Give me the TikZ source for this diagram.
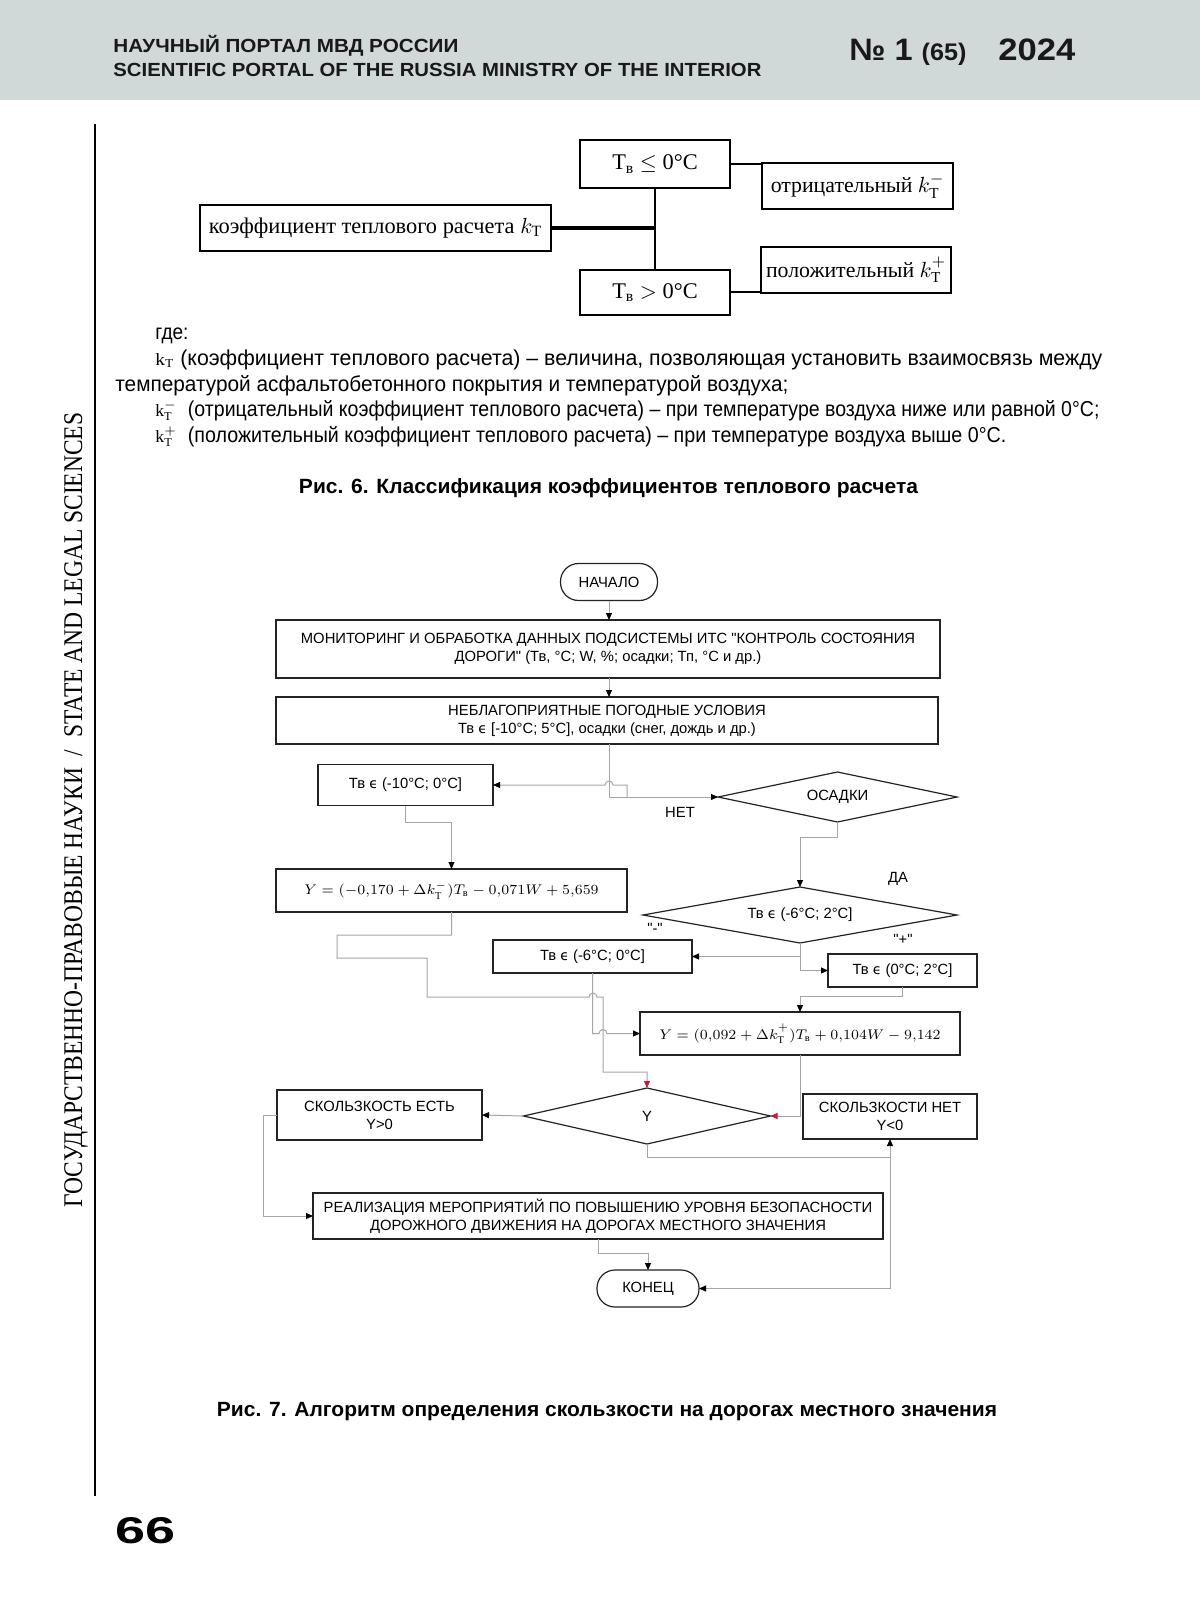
\documentclass[tikz,border=0pt]{standalone}
\usepackage{amsmath}
\usepackage{fontspec}
\setmainfont{Liberation Serif}
\newfontfamily\arial{Liberation Sans}
\newfontfamily\arialn[FakeStretch=0.88]{Liberation Sans}
\newfontfamily\serif{Liberation Serif}
\newfontfamily\dejavu{DejaVu Sans}
\usepackage{graphicx}
\usetikzlibrary{arrows.meta,shapes.geometric}
\definecolor{band}{RGB}{209,217,216}
\definecolor{lineg}{RGB}{165,165,165}
\definecolor{boxc}{RGB}{35,35,35}
\definecolor{redarr}{RGB}{205,20,60}
\newcommand{\fitw}[2]{\resizebox{#1}{\height}{#2}}
\newcommand{\eps}{{\dejavu\fontsize{7}{9}\selectfont ϵ}}
\newcommand{\upp}{\raisebox{1.2pt}{$\scriptstyle +$}}
\newcommand{\ksym}[1]{{\fontsize{8.6}{10}\selectfont$\mathrm{k}_{\mathrm{T}}#1$}}
\begin{document}
\begin{tikzpicture}[x=0.5pt,y=-0.5pt,
  hdr/.style={inner sep=0pt, anchor=base west, text=black!90, font=\arial\bfseries\fontsize{9.5}{11}\selectfont},
  body/.style={inner sep=0pt, anchor=base west, font=\arialn\fontsize{10.8}{12}\selectfont},
  capt/.style={inner sep=0pt, anchor=base, font=\arialn\bfseries\fontsize{10.3}{12}\selectfont},
  fsix/.style={draw=black, line width=1pt, inner sep=0pt, outer sep=0pt, font=\serif\fontsize{11.2}{13}\selectfont},
  fcbox/.style={draw=boxc, line width=0.6pt, inner sep=0pt, outer sep=0pt, align=center, font=\arial\fontsize{7.4}{9}\selectfont},
  fcdia/.style={diamond, draw=boxc, line width=0.6pt, inner sep=0pt, outer sep=0pt},
  lbl/.style={inner sep=0pt, font=\arial\fontsize{7.4}{9}\selectfont},
  conn/.style={draw=lineg, line width=0.5pt},
  arr/.style={conn, -{Triangle[length=3.5pt,width=3pt,color=black]}},
  rarr/.style={conn, -{Triangle[length=3.5pt,width=3pt,color=redarr]}},
  fline/.style={draw=black, line width=1pt}]
\useasboundingbox (0,0) rectangle (1200,1599);
\fill[white] (0,0) rectangle (1200,1599);
% header
\fill[band] (0,0) rectangle (1200,100);
\node[hdr] (h1) at (113,53) {\fitw{172.5pt}{НАУЧНЫЙ ПОРТАЛ МВД РОССИИ}};
\node[hdr] (h2) at (113,77) {\fitw{324pt}{SCIENTIFIC PORTAL OF THE RUSSIA MINISTRY OF THE INTERIOR}};
\node[hdr, font=\arial\bfseries\fontsize{15.5}{16}\selectfont] (h3) at (849,61) {\fitw{58.5pt}{№ 1 {\fontsize{12}{12}\selectfont(65)}}};
\node[hdr, font=\arial\bfseries\fontsize{15.5}{16}\selectfont] (h4) at (998,61) {\fitw{38.5pt}{2024}};
% side
\draw[line width=1.2pt] (95,124) -- (95,1496);
\node[rotate=90, inner sep=0pt, font=\serif\fontsize{13.5}{14}\selectfont] (vt) at (76,810) {\fitw{397.5pt}{ГОСУДАРСТВЕННО-ПРАВОВЫЕ НАУКИ \ / \ STATE AND LEGAL SCIENCES}};
\node[anchor=base west, inner sep=0pt, font=\arial\bfseries] (pg) at (115,1543) {\resizebox{30pt}{13pt}{66}};
% figure 6
\node[fsix, minimum width=75pt, minimum height=24pt] (tle) at (655,164) {Т\textsubscript{в} $\leq$ 0°C};
\node[fsix, font=\serif\fontsize{10.9}{13}\selectfont, minimum width=95.5pt, minimum height=23pt] (neg) at (857.5,186) {отрицательный $k_{\mathrm{T}}^{-}$};
\node[fsix, minimum width=175.5pt, minimum height=23pt] (kt) at (375.5,228) {коэффициент теплового расчета $k_{\mathrm{T}}$};
\node[fsix, minimum width=75pt, minimum height=22.5pt] (tgt) at (655,292.5) {Т\textsubscript{в} $>$ 0°C};
\node[fsix, font=\serif\fontsize{10.9}{13}\selectfont, minimum width=95pt, minimum height=23pt] (pos) at (856,270) {положительный $k_{\mathrm{T}}^{\upp}$};
\coordinate (junc) at (655,228);
\draw[line width=1.6pt] (kt.east) -- (junc);
\draw[fline] (tle.south) -- (tgt.north);
\draw[fline] (tle.east) -- (tle.east -| neg.west);
\draw[fline] (tgt.east) -- (tgt.east -| pos.west);
% body text
\node[body] (l0) at (155,340) {где:};
\node[body] (l1) at (155,365) {\fitw{473.5pt}{\ksym{} (коэффициент теплового расчета) – величина, позволяющая установить взаимосвязь между}};
\node[body] (l2) at (115,391) {\fitw{336.5pt}{температурой асфальтобетонного покрытия и температурой воздуха;}};
\node[body] (l3) at (155,416) {\fitw{472pt}{\ksym{^{-}}\ \ (отрицательный коэффициент теплового расчета) – при температуре воздуха ниже или равной 0°C;}};
\node[body] (l4) at (155,442) {\fitw{425.5pt}{\ksym{^{+}}\ \ (положительный коэффициент теплового расчета) – при температуре воздуха выше 0°C.}};
\node[capt] (c6) at (608.5,493) {\fitw{309.5pt}{Рис. 6. Классификация коэффициентов теплового расчета}};
% figure 7 nodes
\node[fcbox, rounded corners=9pt, minimum width=48.5pt, minimum height=18.5pt] (start) at (609,582) {НАЧАЛО};
\node[fcbox, minimum width=332pt, minimum height=29pt] (b1) at (608,649) {МОНИТОРИНГ И ОБРАБОТКА ДАННЫХ ПОДСИСТЕМЫ ИТС "КОНТРОЛЬ СОСТОЯНИЯ\\ДОРОГИ" (Тв, °C; W, \%; осадки; Тп, °C и др.)};
\node[fcbox, minimum width=331pt, minimum height=23.5pt] (b2) at (607,720.5) {НЕБЛАГОПРИЯТНЫЕ ПОГОДНЫЕ УСЛОВИЯ\\Тв \eps{} [-10°C; 5°C], осадки (снег, дождь и др.)};
\node[fcbox, minimum width=87.5pt, minimum height=20.5pt] (c10) at (405.5,785) {Тв \eps{} (-10°C; 0°C]};
\node[fcdia, minimum width=119.5pt, minimum height=25pt, label={[lbl]center:ОСАДКИ}] (osad) at (837.5,797) {};
\node[fcbox, minimum width=175.5pt, minimum height=21.5pt] (ym) at (451.5,890.5) {$Y=(-0{,}170+\Delta k_{\mathrm{T}}^{-})T_{\text{\serif в}}-0{,}071W+5{,}659$};
\node[fcdia, minimum width=157pt, minimum height=28pt, label={[lbl]center:{Тв \eps{} (-6°C; 2°C]}}] (d2) at (800,915) {};
\node[fcbox, minimum width=99.5pt, minimum height=16.5pt] (c60) at (592.5,956.5) {Тв \eps{} (-6°C; 0°C]};
\node[fcbox, minimum width=74.5pt, minimum height=16.5pt] (c02) at (902.5,970.5) {Тв \eps{} (0°C; 2°C]};
\node[fcbox, minimum width=160pt, minimum height=21.5pt] (yp) at (800,1033.5) {$Y=(0{,}092+\Delta k_{\mathrm{T}}^{\upp})T_{\text{\serif в}}+0{,}104W-9{,}142$};
\node[fcdia, minimum width=123.5pt, minimum height=28pt, label={[lbl]center:Y}] (ydia) at (647,1116) {};
\node[fcbox, minimum width=102.5pt, minimum height=25pt] (yes) at (379.5,1115) {СКОЛЬЗКОСТЬ ЕСТЬ\\Y>0};
\node[fcbox, minimum width=87pt, minimum height=22.5pt] (no) at (890,1116.5) {СКОЛЬЗКОСТИ НЕТ\\Y<0};
\node[fcbox, minimum width=285pt, minimum height=23pt] (act) at (598,1216) {РЕАЛИЗАЦИЯ МЕРОПРИЯТИЙ ПО ПОВЫШЕНИЮ УРОВНЯ БЕЗОПАСНОСТИ\\ДОРОЖНОГО ДВИЖЕНИЯ НА ДОРОГАХ МЕСТНОГО ЗНАЧЕНИЯ};
\node[fcbox, rounded corners=9pt, minimum width=51pt, minimum height=18.5pt] (end) at (648,1288.5) {КОНЕЦ};
% labels
\node[lbl] (net) at (680,812) {НЕТ};
\node[lbl] (da) at (898,879) {ДА};
\node[lbl] (minus) at (655,928) {"-"};
\node[lbl] (plus) at (903,939) {"+"};
% connectors
\draw[arr] (start.south) -- (start.south |- b1.north);
\draw[arr] (start.south |- b1.south) -- (start.south |- b2.north);
\draw[arr] (start.south |- b2.south) |- (osad.west);
\coordinate (netj) at (627,797);
\draw[arr] (netj) -- (627,785) -- (613,785) arc[start angle=0,end angle=180,radius=2pt] -- (c10.east);
\draw[arr] (osad.south) -- (837.5,837) -| (d2.north);
\draw[arr] (d2.south) |- (c60.east);
\draw[arr] (d2.south) |- (c02.west);
\draw[arr] (c10.south) -- (405.5,822) -| (ym.north);
\draw[rarr] (ym.south) -- (451.5,935) -- (337,935) -- (337,958) -- (427,958) -- (427,997) -- (589,997) arc[start angle=180,end angle=0,radius=2pt] -- (603,997) -- (603,1072) -- (647,1072) -- (ydia.north);
\draw[arr] (c60.south) -- (592.5,1033.5) -- (599,1033.5) arc[start angle=180,end angle=0,radius=2pt] -- (yp.west);
\draw[arr] (c02.south) -- (902.5,996) -| (yp.north);
\draw[rarr] (yp.south) |- (ydia.east);
\draw[arr] (ydia.west) -- (yes.east);
\draw[arr] (yes.west) -- (263,1115) |- (act.west);
\coordinate (yj) at (890,1157);
\draw[arr] (ydia.south) |- (yj) -- (no.south);
\draw[arr] (yj) |- (end.east);
\draw[arr] (act.south) -- (598,1253) -| (end.north);
\node[capt] (c7) at (607,1416) {\fitw{390pt}{Рис. 7. Алгоритм определения скользкости на дорогах местного значения}};
\end{tikzpicture}
\end{document}
